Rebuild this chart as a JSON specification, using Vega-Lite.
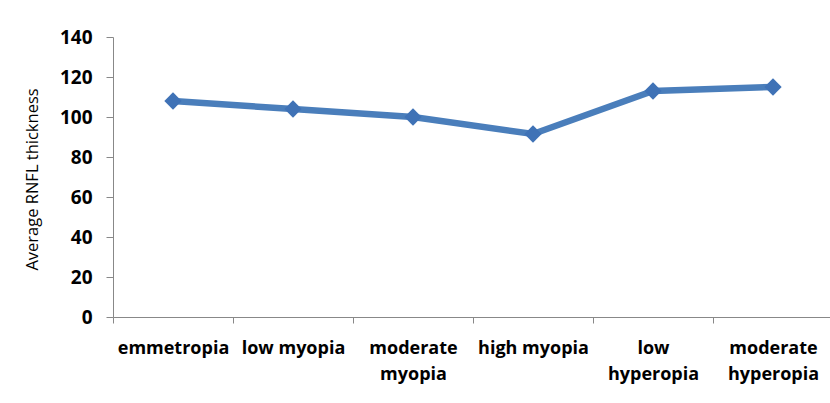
{
  "$schema": "https://vega.github.io/schema/vega-lite/v6.json",
  "autosize": "none",
  "width": 720,
  "height": 280,
  "padding": {"left": 113, "top": 37, "right": 0, "bottom": 86},
  "background": "white",
  "config": {"view": {"stroke": null}, "font": "Open Sans"},
  "data": {"values": [
    {"group": "emmetropia", "rnfl": 108},
    {"group": "low myopia", "rnfl": 104},
    {"group": "moderate myopia", "rnfl": 100},
    {"group": "high myopia", "rnfl": 91.5},
    {"group": "low hyperopia", "rnfl": 113},
    {"group": "moderate hyperopia", "rnfl": 115}
  ]},
  "encoding": {
    "x": {
      "field": "group", "type": "nominal", "sort": null,
      "scale": {"type": "band", "paddingInner": 0, "paddingOuter": 0},
      "axis": {
        "title": null, "labelAngle": 0, "tickBand": "extent",
        "domainColor": "#888888", "tickColor": "#888888", "tickSize": 6,
        "labelFont": "Open Sans", "labelFontSize": 18, "labelFontWeight": "bold", "labelColor": "black",
        "labelPadding": 16, "labelBaseline": "top", "labelLineHeight": 26,
        "labelExpr": "indexof(['moderate myopia','low hyperopia','moderate hyperopia'], datum.label) >= 0 ? split(datum.label, ' ') : datum.label"
      }
    },
    "y": {
      "field": "rnfl", "type": "quantitative",
      "scale": {"domain": [0, 140]},
      "axis": {
        "title": "Average RNFL thickness", "values": [0, 20, 40, 60, 80, 100, 120, 140],
        "grid": false, "domainColor": "#888888", "tickColor": "#888888", "tickSize": 7,
        "labelFont": "Open Sans", "labelFontSize": 19, "labelFontWeight": "bold", "labelColor": "black",
        "labelPadding": 14,
        "titleFont": "Open Sans", "titleFontSize": 16.5, "titleFontWeight": "normal", "titleColor": "black",
        "titleAngle": -90, "titleX": -81, "titleY": 142, "titleAlign": "center", "titleBaseline": "middle"
      }
    }
  },
  "layer": [
    {"mark": {"type": "line", "color": "#4A7EBB", "strokeWidth": 6.5}},
    {"mark": {"type": "point", "shape": "diamond", "filled": true, "color": "#3F72B6", "size": 300, "opacity": 1}}
  ]
}
